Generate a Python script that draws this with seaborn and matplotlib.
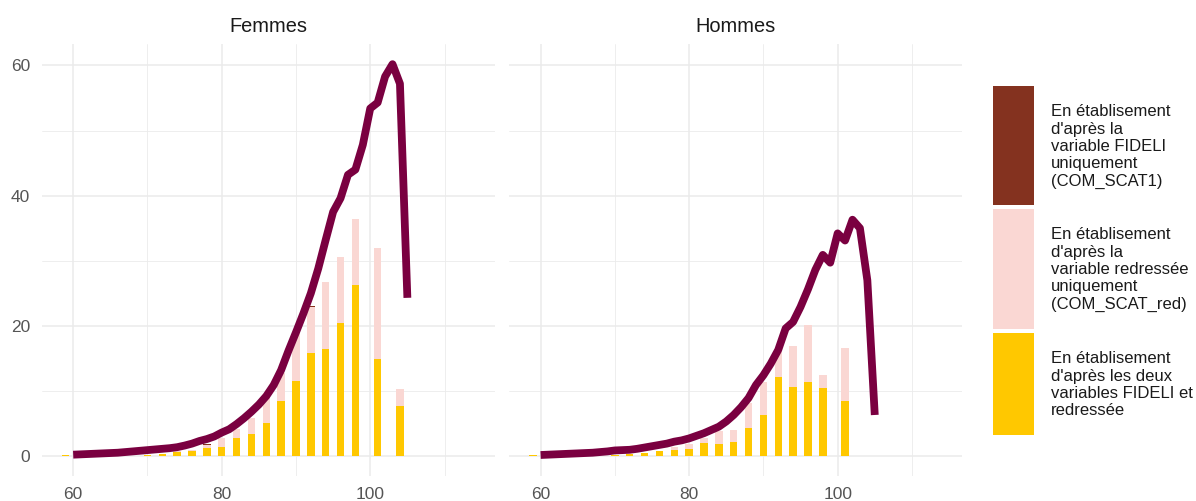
import numpy as np
import pandas as pd
import matplotlib
matplotlib.use("Agg")
import matplotlib.pyplot as plt
from matplotlib.patches import Rectangle
from matplotlib.ticker import MultipleLocator
import seaborn as sns

sns.set_theme(style="whitegrid")
plt.rcParams["font.family"] = ["Liberation Sans", "DejaVu Sans"]

# ------------------------------------------------------------------ #
# Data
# ------------------------------------------------------------------ #
panels = ["Femmes", "Hommes"]

# line : ages 60..105
line_age = list(range(60, 106))
line_f = [0.2, 0.25, 0.3, 0.35, 0.4, 0.45, 0.5, 0.6, 0.7, 0.8,
          0.9, 1.0, 1.1, 1.2, 1.35, 1.6, 1.9, 2.3, 2.6, 3.0,
          3.6, 4.1, 4.9, 5.8, 6.8, 7.9, 9.2, 10.9, 13.2, 16.2,
          19.0, 21.9, 25.0, 28.8, 33.2, 37.5, 39.6, 43.2, 44.0, 47.8,
          53.4, 54.3, 58.3, 60.2, 57.2, 24.3]
line_h = [0.15, 0.2, 0.25, 0.3, 0.35, 0.4, 0.45, 0.5, 0.6, 0.7,
          0.85, 0.9, 0.95, 1.1, 1.3, 1.5, 1.7, 1.9, 2.2, 2.4,
          2.7, 3.1, 3.5, 4.0, 4.5, 5.3, 6.3, 7.5, 8.9, 10.9,
          12.4, 14.2, 16.3, 19.6, 20.6, 22.9, 25.6, 28.6, 30.9, 29.7,
          34.2, 33.1, 36.3, 35.0, 27.0, 6.3]

# stacked bars
bar_age_f = [59, 70, 72, 74, 76, 78, 80, 82, 84, 86, 88, 90, 92, 94, 96, 98, 101, 104]
both_f = [0.15, 0.2, 0.35, 0.66, 0.8, 1.2, 1.4, 2.8, 3.3, 5.1, 8.4, 11.5, 15.8, 16.4, 20.4, 26.3, 14.9, 7.7]
red_only_f = [0, 0, 0, 0.05, 0.1, 0.5, 1.4, 1.4, 2.5, 4.3, 4.3, 7.6, 7.1, 10.3, 10.1, 10.1, 17.0, 2.6]
fideli_only_f = [0.05, 0, 0, 0, 0, 0.15, 0, 0, 0, 0, 0, 0, 0.2, 0, 0, 0, 0, 0]

bar_age_h = [59, 70, 72, 74, 76, 78, 80, 82, 84, 86, 88, 90, 92, 94, 96, 98, 101]
both_h = [0.1, 0.15, 0.3, 0.5, 0.8, 0.9, 1.0, 2.0, 1.9, 2.1, 4.3, 6.3, 12.2, 10.6, 11.4, 10.5, 8.4]
red_only_h = [0, 0, 0, 0, 0, 0.5, 0.85, 0.8, 1.9, 1.9, 3.8, 5.0, 3.8, 6.3, 8.7, 2.0, 8.2]
fideli_only_h = [0] * len(bar_age_h)

legend_labels = [
    "En établisement\nd'après la\nvariable FIDELI\nuniquement\n(COM_SCAT1)",
    "En établisement\nd'après la\nvariable redressée\nuniquement\n(COM_SCAT_red)",
    "En établisement\nd'après les deux\nvariables FIDELI et\nredressée",
]

BROWN = "#84321F"
PINK = "#FAD7D3"
YELLOW = "#FFC800"
LINE = "#7A0040"
GRID = "#EBEBEB"
BAR_W = 0.5   # relative to the 2-year spacing -> 1 year

fig = plt.figure(figsize=(11.96, 5.01), dpi=100)
W, H = 1196, 501
ax_f = fig.add_axes([42 / W, 1 - 475.5 / H, 453 / W, 431.5 / H])
ax_h = fig.add_axes([509.4 / W, 1 - 475.5 / H, 453 / W, 431.5 / H], sharey=ax_f)

series = [
    (ax_f, bar_age_f, both_f, red_only_f, fideli_only_f, line_f),
    (ax_h, bar_age_h, both_h, red_only_h, fideli_only_h, line_h),
]

for (ax, ages, both, red, fid, line), title in zip(series, panels):
    df = pd.DataFrame({"age": ages, "both": both, "red": red, "fid": fid})
    df["tot_yellow"] = df["both"]
    df["tot_pink"] = df["both"] + df["red"]
    df["tot_brown"] = df["tot_pink"] + df["fid"]
    # back to front so that the layers read as a stack
    for col, c in [("tot_brown", BROWN), ("tot_pink", PINK), ("tot_yellow", YELLOW)]:
        sns.barplot(data=df, x="age", y=col, native_scale=True, width=BAR_W,
                    color=c, saturation=1, linewidth=0, errorbar=None, ax=ax)
    ld = pd.DataFrame({"age": line_age, "val": line})
    sns.lineplot(data=ld, x="age", y="val", color=LINE, linewidth=5.6, ax=ax,
                 solid_capstyle="butt", solid_joinstyle="round")

    ax.set_xlim(55.8, 116.8)
    ax.set_ylim(-3.0, 63.3)
    ax.xaxis.set_major_locator(MultipleLocator(20))
    ax.xaxis.set_minor_locator(MultipleLocator(10))
    ax.yaxis.set_major_locator(MultipleLocator(20))
    ax.yaxis.set_minor_locator(MultipleLocator(10))
    ax.grid(which="major", color=GRID, linewidth=1.1)
    ax.grid(which="minor", color=GRID, linewidth=0.6)
    ax.set_facecolor("white")
    for s in ax.spines.values():
        s.set_visible(False)
    ax.tick_params(which="both", length=0, labelsize=12.5, labelcolor="#555555")
    ax.tick_params(axis="x", pad=8)
    ax.tick_params(axis="y", pad=8.5)
    ax.set_xlabel("")
    ax.set_ylabel("")
    ax.set_title(title, fontsize=14.4, color="#1A1A1A", pad=8.5)

ax_h.tick_params(axis="y", labelleft=False)

# legend drawn by hand, ggplot style tall keys
leg = fig.add_axes([0, 0, 1, 1])
leg.set_xlim(0, W)
leg.set_ylim(H, 0)
leg.axis("off")
keys = [(86, 205, BROWN), (208.5, 328.5, PINK), (332.5, 435, YELLOW)]
for (y0, y1, c), lab in zip(keys, legend_labels):
    leg.add_patch(Rectangle((992.7, y0), 41.3, y1 - y0, facecolor=c, edgecolor="none"))
    leg.text(1050.7, (y0 + y1) / 2 + 1, lab, fontsize=12, color="#1A1A1A",
             va="center", ha="left", linespacing=1.2)

plt.savefig("out.png", dpi=100)
plt.close()
